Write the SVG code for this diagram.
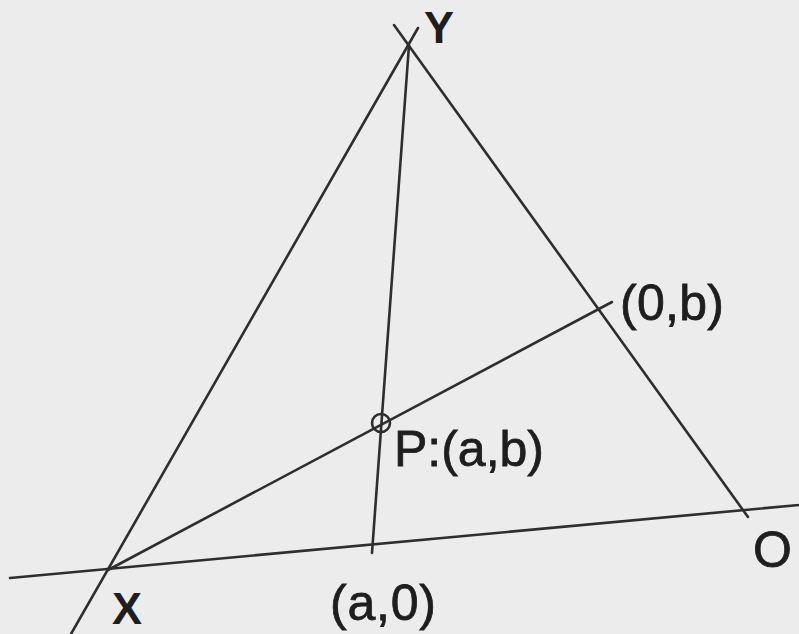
<svg xmlns="http://www.w3.org/2000/svg" width="799" height="634" viewBox="0 0 799 634">
<style>
.ln{stroke:#2e2e2e;stroke-width:2.6;fill:none;stroke-linecap:round}
.t{font-family:"Liberation Sans",Arial,sans-serif;fill:#1e1e1e;stroke:#1e1e1e;stroke-width:0.8;font-size:50px}
.b{font-weight:bold;stroke-width:0}
</style>
<rect width="799" height="634" fill="#ececec"/>
<g id="connectors">
<line class="ln" x1="10" y1="578" x2="799" y2="505"/>
<line class="ln" x1="71" y1="634" x2="418" y2="28"/>
<line class="ln" x1="394" y1="25" x2="748" y2="517"/>
<line class="ln" x1="409" y1="45" x2="372" y2="553"/>
<line class="ln" x1="108" y1="570" x2="612" y2="302"/>
</g>
<g id="Y"><text class="t b" x="424" y="43" style="font-size:45px">Y</text></g>
<g id="b0"><text class="t" x="620" y="320" textLength="104">(0,b)</text></g>
<g id="P"><circle cx="381" cy="423" r="9" class="ln"/><text class="t" x="394" y="466" textLength="150">P:(a,b)</text></g>
<g id="X"><text class="t b" x="112" y="624" style="font-size:45px">X</text></g>
<g id="a0"><text class="t" x="330" y="620" textLength="106">(a,0)</text></g>
<g id="O"><text class="t" x="753" y="567">O</text></g>
</svg>
